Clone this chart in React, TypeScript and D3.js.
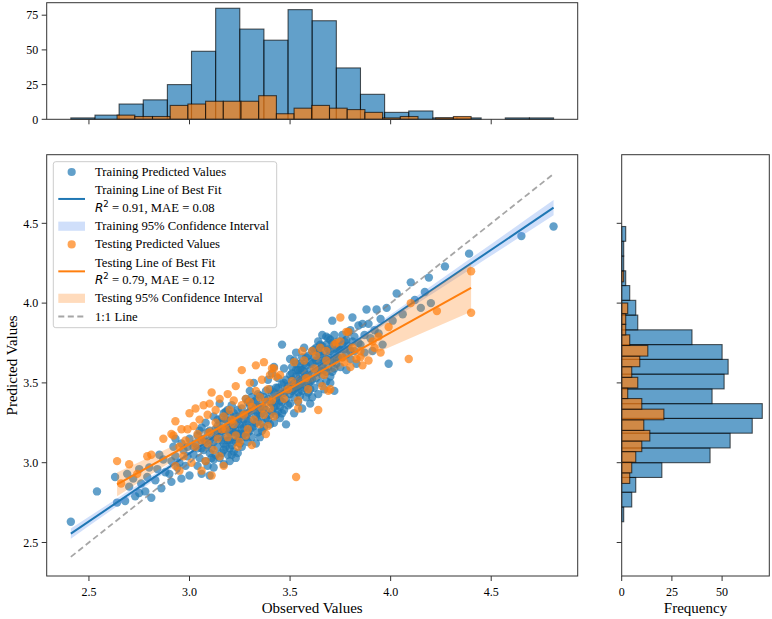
import React from 'react';
import * as d3 from 'd3';

// Training set: [observed, predicted]
const trainPoints: [number, number][] = [
  [2.41, 2.63], [2.54, 2.82], [2.63, 2.91], [2.64, 2.75],
  [2.68, 2.76], [2.75, 2.81], [2.75, 2.96], [2.70, 2.85], [2.72, 2.90], [2.73, 2.79], [2.76, 2.87], [2.69, 2.93],
  [2.78, 2.82], [2.81, 2.78], [2.83, 2.89], [2.84, 2.96], [2.88, 2.94], [2.80, 2.97], [2.86, 2.84], [2.87, 3.02], [2.79, 2.91], [2.85, 3.05],
  [2.91, 3.01], [2.93, 3.04], [2.96, 3.12], [2.99, 3.04], [2.90, 2.93], [2.94, 2.97], [2.97, 3.08], [3.00, 2.92], [2.92, 3.10], [2.95, 3.00],
  [2.98, 2.98], [3.00, 3.15], [2.96, 2.90], [2.93, 3.15], [2.99, 3.10], [2.91, 2.88],
  [3.02, 3.05], [3.03, 3.12], [3.04, 2.98], [3.05, 3.20], [3.06, 2.93], [3.06, 3.09], [3.07, 3.15], [3.08, 3.01], [3.08, 3.25], [3.09, 2.98],
  [3.09, 3.11], [3.10, 3.06], [3.10, 2.92], [3.11, 3.17], [3.11, 3.03], [3.12, 3.13], [3.12, 3.29], [3.12, 2.97], [3.04, 3.17], [3.05, 3.03],
  [3.07, 3.08], [3.09, 3.19], [3.10, 3.14], [3.11, 3.09], [3.13, 3.05], [3.13, 3.21], [3.02, 3.10], [3.06, 3.14],
  [3.08, 3.13], [3.10, 3.20], [3.12, 3.02], [3.04, 3.09], [3.06, 3.22],
  [3.14, 3.10], [3.14, 3.19], [3.15, 3.03], [3.15, 3.25], [3.15, 3.37], [3.16, 3.14], [3.16, 3.06], [3.17, 3.21], [3.17, 3.31], [3.17, 2.99],
  [3.18, 3.10], [3.18, 3.17], [3.18, 3.27], [3.19, 3.05], [3.19, 3.22], [3.19, 3.14], [3.20, 3.30], [3.20, 3.01], [3.20, 3.19], [3.21, 3.11],
  [3.21, 3.26], [3.21, 3.36], [3.22, 3.16], [3.22, 3.07], [3.22, 3.23], [3.23, 3.13], [3.23, 3.29], [3.23, 3.20], [3.24, 3.06], [3.24, 3.18],
  [3.24, 3.33], [3.25, 3.12], [3.25, 3.24], [3.16, 3.28], [3.14, 3.23], [3.17, 3.12], [3.19, 3.33], [3.20, 3.09], [3.21, 3.20], [3.22, 3.31],
  [3.23, 3.03], [3.24, 3.26], [3.18, 3.21], [3.25, 3.18], [3.15, 3.16],
  [3.13, 3.16], [3.14, 3.27], [3.16, 3.20], [3.17, 3.08], [3.18, 3.32], [3.19, 3.26], [3.20, 3.14], [3.21, 3.05], [3.22, 3.19], [3.23, 3.24],
  [3.24, 3.14], [3.25, 3.29],
  [3.26, 3.21], [3.26, 3.34], [3.26, 3.10], [3.27, 3.27], [3.27, 3.18], [3.28, 3.40], [3.28, 3.24], [3.29, 3.13], [3.29, 3.31], [3.30, 3.45],
  [3.30, 3.20], [3.30, 3.36], [3.31, 3.27], [3.31, 3.16], [3.32, 3.33], [3.32, 3.23], [3.32, 3.50], [3.33, 3.29], [3.33, 3.39], [3.34, 3.19],
  [3.34, 3.26], [3.34, 3.35], [3.35, 3.30], [3.35, 3.42], [3.35, 3.16], [3.36, 3.25], [3.36, 3.37], [3.36, 3.31], [3.37, 3.22], [3.37, 3.41],
  [3.27, 3.30], [3.29, 3.38], [3.31, 3.41], [3.33, 3.12], [3.28, 3.16], [3.35, 3.35],
  [3.26, 3.16], [3.27, 3.22], [3.28, 3.30], [3.29, 3.19], [3.29, 3.26], [3.30, 3.32], [3.31, 3.22], [3.32, 3.38], [3.33, 3.25], [3.34, 3.31],
  [3.34, 3.43], [3.36, 3.20], [3.37, 3.34],
  [3.38, 3.33], [3.38, 3.45], [3.39, 3.27], [3.39, 3.52], [3.40, 3.38], [3.40, 3.30], [3.41, 3.43], [3.41, 3.56], [3.42, 3.35], [3.42, 3.25],
  [3.43, 3.47], [3.43, 3.39], [3.44, 3.32], [3.44, 3.53], [3.45, 3.43], [3.45, 3.28], [3.46, 3.49], [3.46, 3.38], [3.47, 3.59], [3.47, 3.33],
  [3.47, 3.44], [3.48, 3.52], [3.48, 3.24], [3.48, 3.40], [3.46, 3.74], [3.49, 3.48], [3.40, 3.46], [3.42, 3.60], [3.44, 3.41], [3.45, 3.35],
  [3.43, 3.30], [3.41, 3.37],
  [3.38, 3.28], [3.39, 3.40], [3.40, 3.24], [3.41, 3.32], [3.42, 3.44], [3.43, 3.36], [3.44, 3.47], [3.45, 3.39], [3.46, 3.31], [3.47, 3.50],
  [3.48, 3.45], [3.49, 3.36],
  [3.50, 3.37], [3.50, 3.55], [3.50, 3.65], [3.51, 3.45], [3.51, 3.60], [3.52, 3.50], [3.52, 3.31], [3.52, 3.41], [3.53, 3.58], [3.53, 3.47],
  [3.53, 3.69], [3.54, 3.52], [3.54, 3.38], [3.54, 3.44], [3.55, 3.62], [3.55, 3.55], [3.55, 3.49], [3.56, 3.34], [3.56, 3.66], [3.56, 3.58],
  [3.57, 3.47], [3.57, 3.53], [3.57, 3.72], [3.58, 3.41], [3.58, 3.61], [3.58, 3.55], [3.59, 3.50], [3.59, 3.67], [3.59, 3.44], [3.60, 3.58],
  [3.60, 3.37], [3.60, 3.63], [3.61, 3.52], [3.61, 3.70], [3.51, 3.52], [3.52, 3.64], [3.55, 3.42], [3.56, 3.51], [3.58, 3.48], [3.60, 3.46],
  [3.61, 3.41], [3.53, 3.54], [3.57, 3.62], [3.54, 3.58],
  [3.50, 3.43], [3.51, 3.56], [3.52, 3.46], [3.53, 3.62], [3.54, 3.48], [3.55, 3.58], [3.56, 3.45], [3.57, 3.57], [3.58, 3.66], [3.59, 3.54],
  [3.60, 3.51], [3.61, 3.62],
  [3.62, 3.56], [3.62, 3.66], [3.62, 3.47], [3.63, 3.60], [3.63, 3.72], [3.63, 3.53], [3.64, 3.64], [3.64, 3.43], [3.64, 3.76], [3.65, 3.58],
  [3.65, 3.68], [3.65, 3.50], [3.66, 3.61], [3.66, 3.80], [3.66, 3.55], [3.67, 3.70], [3.67, 3.46], [3.67, 3.63], [3.68, 3.57], [3.68, 3.74],
  [3.68, 3.51], [3.69, 3.66], [3.69, 3.60], [3.69, 3.78], [3.70, 3.54], [3.70, 3.70], [3.70, 3.50], [3.71, 3.63], [3.71, 3.89], [3.71, 3.75],
  [3.72, 3.59], [3.72, 3.68], [3.72, 3.45], [3.73, 3.71], [3.73, 3.62], [3.64, 3.69], [3.66, 3.73], [3.68, 3.65], [3.70, 3.77], [3.72, 3.80],
  [3.62, 3.71], [3.63, 3.64], [3.64, 3.57], [3.65, 3.74], [3.66, 3.66], [3.67, 3.58], [3.68, 3.79], [3.69, 3.71], [3.70, 3.64], [3.71, 3.57],
  [3.72, 3.74], [3.73, 3.66],
  [3.74, 3.66], [3.74, 3.76], [3.75, 3.60], [3.75, 3.71], [3.76, 3.80], [3.76, 3.66], [3.77, 3.76], [3.78, 3.68], [3.78, 3.58], [3.79, 3.82],
  [3.79, 3.73], [3.80, 3.83], [3.80, 3.65], [3.81, 3.76], [3.81, 3.91], [3.82, 3.70], [3.82, 3.79], [3.83, 3.62], [3.84, 3.75], [3.84, 3.86],
  [3.85, 3.74], [3.77, 3.71], [3.74, 3.71], [3.76, 3.74], [3.78, 3.77], [3.80, 3.70],
  [3.86, 3.87], [3.87, 3.80], [3.88, 3.96], [3.89, 3.87], [3.90, 3.78], [3.91, 3.70], [3.92, 3.83], [3.93, 3.96], [3.94, 3.81], [3.95, 3.90],
  [3.96, 3.74], [3.87, 3.69],
  [3.98, 3.97], [3.99, 3.62], [4.01, 3.89], [4.03, 4.06], [4.06, 3.93],
  [4.10, 4.13], [4.12, 4.02], [4.15, 3.97], [4.17, 4.07], [4.19, 4.16], [4.20, 4.00],
  [4.27, 4.23], [4.39, 4.31], [4.65, 4.42], [4.81, 4.48],
];

// Testing set: [observed, predicted]
const testPoints: [number, number][] = [
  [2.64, 3.01], [2.66, 2.87], [2.70, 2.99],
  [2.74, 2.93], [2.79, 3.04],
  [2.81, 3.05], [2.87, 3.15],
  [2.91, 3.18], [2.92, 3.17], [2.93, 2.98], [2.95, 3.10], [2.96, 3.21], [2.97, 3.04], [2.98, 3.14], [2.93, 3.26], [2.99, 3.21], [2.95, 2.95],
  [3.00, 3.31], [3.01, 3.00], [3.02, 3.23], [3.03, 3.10], [3.05, 3.27], [3.04, 3.18], [3.06, 2.95], [3.07, 3.36], [3.08, 3.01], [3.03, 3.34],
  [3.06, 3.14],
  [3.09, 3.30], [3.10, 3.37], [3.10, 3.19], [3.11, 2.92], [3.12, 3.08], [3.13, 3.25], [3.14, 3.15], [3.15, 3.40], [3.16, 3.21], [3.15, 3.04],
  [3.11, 3.44], [3.13, 3.33], [3.09, 3.12],
  [3.17, 2.98], [3.18, 3.21], [3.19, 3.16], [3.20, 3.33], [3.21, 3.27], [3.22, 3.39], [3.23, 3.17], [3.23, 3.48], [3.24, 3.10], [3.25, 3.13],
  [3.19, 3.43], [3.22, 3.24], [3.17, 3.29],
  [3.26, 3.58], [3.27, 3.30], [3.28, 3.40], [3.29, 3.21], [3.30, 3.50], [3.31, 3.11], [3.31, 3.35], [3.32, 3.27], [3.33, 3.45], [3.28, 3.17],
  [3.30, 3.38], [3.33, 3.61], [3.26, 3.36],
  [3.35, 3.24], [3.35, 3.41], [3.36, 3.52], [3.37, 3.30], [3.38, 3.18], [3.39, 3.23], [3.39, 3.46], [3.40, 3.34], [3.40, 3.55], [3.41, 3.59],
  [3.41, 3.39], [3.42, 3.29], [3.42, 3.59], [3.43, 3.54], [3.37, 3.63], [3.38, 3.38], [3.36, 3.34],
  [3.45, 3.55], [3.47, 3.40], [3.49, 3.46], [3.51, 3.51],
  [3.52, 3.63], [3.53, 2.91], [3.54, 3.39], [3.54, 3.34], [3.56, 3.70], [3.57, 3.64], [3.58, 3.53], [3.59, 3.46],
  [3.61, 3.70], [3.62, 3.59], [3.64, 3.33], [3.65, 3.72], [3.66, 3.48], [3.67, 3.55], [3.68, 3.64], [3.68, 3.70], [3.69, 3.45], [3.63, 3.67],
  [3.70, 3.46], [3.72, 3.74], [3.73, 3.75], [3.75, 3.91], [3.75, 3.76], [3.76, 3.66], [3.77, 3.63], [3.78, 3.82],
  [3.79, 3.82], [3.81, 3.72], [3.83, 3.65], [3.85, 3.66], [3.85, 3.70], [3.86, 3.61], [3.80, 3.60],
  [3.89, 3.64], [3.91, 3.76], [3.92, 3.72], [3.94, 3.79], [3.95, 3.69],
  [3.99, 3.85],
  [4.09, 3.65], [4.10, 4.00],
  [4.23, 3.95],
  [4.40, 4.20], [4.40, 3.94],
];

// Histogram counts, 20 bins spanning each series' range (low to high)
const trainObservedCounts = [1, 3, 11, 14, 25, 49, 80, 65, 57, 79, 71, 37, 18, 5, 6, 1, 1, 0, 1, 1];
const testObservedCounts = [3, 2, 2, 10, 11, 13, 13, 13, 17, 4, 8, 10, 8, 7, 5, 1, 2, 0, 1, 2];
const trainPredictedCounts = [1, 5, 7, 20, 44, 54, 65, 70, 45, 51, 53, 50, 35, 8, 7, 4, 2, 1, 1, 2];
const testPredictedCounts = [4, 5, 7, 10, 14, 11, 21, 10, 3, 8, 5, 9, 13, 4, 2, 2, 3, 0, 0, 1];

// Lines of best fit (endpoints) and their 95% confidence bands
const trainFit: [number, number][] = [[2.41, 2.556], [4.81, 4.598]];
const testFit: [number, number][] = [[2.64, 2.864], [4.40, 4.096]];
const trainBandX = [2.41, 2.8, 3.2, 3.4, 3.6, 4.0, 4.4, 4.81];
const trainBandLow = [2.524, 2.868, 3.217, 3.389, 3.558, 3.889, 4.216, 4.550];
const trainBandHigh = [2.588, 2.908, 3.239, 3.407, 3.580, 3.929, 4.282, 4.646];
const testBandX = [2.64, 3.0, 3.35, 3.7, 4.0, 4.40];
const testBandLow = [2.789, 3.076, 3.336, 3.561, 3.726, 3.946];
const testBandHigh = [2.939, 3.156, 3.386, 3.651, 3.906, 4.246];

const trainStats = ['0.91', '0.08'];
const testStats = ['0.79', '0.12'];
const topFreqTicks = [0, 25, 50, 75];
const sideFreqTicks = [0, 25, 50];

const BLUE = '#1f77b4';
const ORANGE = '#ff7f0e';
const SERIF = '"Liberation Serif", "Times New Roman", serif';
const SPINE = '#333';

const edgesOf = (vals: number[], n: number) => {
  const [a, b] = d3.extent(vals) as [number, number];
  return d3.range(n + 1).map(i => a + ((b - a) * i) / n);
};

export default function App() {
  const W = 772;
  const H = 619;
  const mainL = 46.7, mainR = 577.7, mainT = 154.7, mainB = 576;
  const topT = 2.7, topB = 119.3;
  const sideL = 621.7, sideR = 769.3;

  // shared data range for both axes (the 1:1 line spans it)
  const [lo, hi] = d3.extent([...trainPoints, ...testPoints].flat()) as [number, number];
  const pad = (hi - lo) * 0.05;
  const x = d3.scaleLinear().domain([lo - pad, hi + pad]).range([mainL, mainR]);
  const y = d3.scaleLinear().domain([lo - pad, hi + pad]).range([mainB, mainT]);

  const topMax = d3.max([...trainObservedCounts, ...testObservedCounts]) as number;
  const yTop = d3.scaleLinear().domain([0, topMax * 1.05]).range([topB, topT]);
  const sideMax = d3.max([...trainPredictedCounts, ...testPredictedCounts]) as number;
  const xSide = d3.scaleLinear().domain([0, sideMax * 1.05]).range([sideL, sideR]);

  const trainObsEdges = edgesOf(trainPoints.map(d => d[0]), trainObservedCounts.length);
  const testObsEdges = edgesOf(testPoints.map(d => d[0]), testObservedCounts.length);
  const trainPredEdges = edgesOf(trainPoints.map(d => d[1]), trainPredictedCounts.length);
  const testPredEdges = edgesOf(testPoints.map(d => d[1]), testPredictedCounts.length);

  const mainTicks = x.ticks(5);
  const fmt = d3.format('.1f');

  const line = d3.line<[number, number]>().x(d => x(d[0])).y(d => y(d[1]));
  const band = (xs: number[], low: number[], high: number[]) =>
    d3
      .area<number>()
      .x((_, i) => x(xs[i]))
      .y0((_, i) => y(low[i]))
      .y1((_, i) => y(high[i]))
      .curve(d3.curveMonotoneX)(xs) as string;

  const topBars = (counts: number[], edges: number[], color: string) =>
    counts.map((c, i) =>
      c > 0 ? (
        <rect
          key={i}
          x={x(edges[i])}
          width={x(edges[i + 1]) - x(edges[i])}
          y={yTop(c)}
          height={yTop(0) - yTop(c)}
          fill={color}
          fillOpacity={0.7}
          stroke="#000"
          strokeOpacity={0.65}
          strokeWidth={1.1}
        />
      ) : null
    );

  const sideBars = (counts: number[], edges: number[], color: string) =>
    counts.map((c, i) =>
      c > 0 ? (
        <rect
          key={i}
          x={xSide(0)}
          width={xSide(c) - xSide(0)}
          y={y(edges[i + 1])}
          height={y(edges[i]) - y(edges[i + 1])}
          fill={color}
          fillOpacity={0.7}
          stroke="#000"
          strokeOpacity={0.65}
          strokeWidth={1.1}
        />
      ) : null
    );

  const dots = (pts: [number, number][], color: string) =>
    pts.map((d, i) => <circle key={i} cx={x(d[0])} cy={y(d[1])} r={4.2} fill={color} fillOpacity={0.7} />);

  const tickFont = { fontFamily: SERIF, fontSize: 12, fill: '#000' };
  const labelFont = { fontFamily: SERIF, fontSize: 15, fill: '#000' };

  // legend layout
  const legX = 53.3, legY = 161.7, legW = 223.4, legH = 166;
  const handleX0 = 58.3, handleX1 = 85, textX = 95;
  const rowGap = 18.2, lineGap = 17.5;
  const r1 = 172;
  const r2a = r1 + rowGap, r2b = r2a + lineGap;
  const r3 = r2b + rowGap + 0.3;
  const r4 = r3 + rowGap;
  const r5a = r4 + rowGap, r5b = r5a + lineGap;
  const r6 = r5b + rowGap;
  const r7 = r6 + rowGap;
  const legFont = { fontFamily: SERIF, fontSize: 12.7, fill: '#000' };

  const statText = (ty: number, stats: string[]) => (
    <text x={textX} y={ty} dy="0.32em" {...legFont}>
      <tspan fontFamily="DejaVu Sans" fontStyle="italic" fontSize={12}>R</tspan>
      <tspan fontFamily="DejaVu Sans" fontSize={8.5} dy={-5}>2</tspan>
      <tspan dy={5}>{` = ${stats[0]}, MAE = ${stats[1]}`}</tspan>
    </text>
  );

  return (
    <svg width={W} height={H} style={{ position: 'absolute', left: 0, top: 0, background: '#fff' }}>
      <defs>
        <clipPath id="mainClip">
          <rect x={mainL} y={mainT} width={mainR - mainL} height={mainB - mainT} />
        </clipPath>
      </defs>

      {/* top marginal histogram: observed values */}
      <g>
        {topBars(trainObservedCounts, trainObsEdges, BLUE)}
        {topBars(testObservedCounts, testObsEdges, ORANGE)}
        <rect x={mainL} y={topT} width={mainR - mainL} height={topB - topT} fill="none" stroke={SPINE} strokeWidth={1} />
        {topFreqTicks.map(t => (
          <g key={t}>
            <line x1={mainL - 5} x2={mainL} y1={yTop(t)} y2={yTop(t)} stroke={SPINE} />
            <text x={mainL - 8.5} y={yTop(t)} dy="0.35em" textAnchor="end" {...tickFont}>{t}</text>
          </g>
        ))}
        {mainTicks.map(t => (
          <line key={t} x1={x(t)} x2={x(t)} y1={topB} y2={topB + 5} stroke={SPINE} />
        ))}
      </g>

      {/* right marginal histogram: predicted values */}
      <g>
        {sideBars(trainPredictedCounts, trainPredEdges, BLUE)}
        {sideBars(testPredictedCounts, testPredEdges, ORANGE)}
        <rect x={sideL} y={mainT} width={sideR - sideL} height={mainB - mainT} fill="none" stroke={SPINE} strokeWidth={1} />
        {mainTicks.map(t => (
          <line key={t} x1={sideL - 5} x2={sideL} y1={y(t)} y2={y(t)} stroke={SPINE} />
        ))}
        {sideFreqTicks.map(t => (
          <g key={t}>
            <line x1={xSide(t)} x2={xSide(t)} y1={mainB} y2={mainB + 5} stroke={SPINE} />
            <text x={xSide(t)} y={mainB + 16} dy="0.35em" textAnchor="middle" {...tickFont}>{t}</text>
          </g>
        ))}
        <text x={(sideL + sideR) / 2} y={608} dy="0.35em" textAnchor="middle" {...labelFont}>Frequency</text>
      </g>

      {/* main scatter */}
      <g clipPath="url(#mainClip)">
        {dots(trainPoints, BLUE)}
        <path d={band(trainBandX, trainBandLow, trainBandHigh)} fill="#6495ed" fillOpacity={0.3} />
        <path d={line(trainFit) as string} fill="none" stroke={BLUE} strokeWidth={2} />
        {dots(testPoints, ORANGE)}
        <path d={band(testBandX, testBandLow, testBandHigh)} fill={ORANGE} fillOpacity={0.28} />
        <path d={line(testFit) as string} fill="none" stroke={ORANGE} strokeWidth={2} />
        <path
          d={line([[lo, lo], [hi, hi]]) as string}
          fill="none"
          stroke="gray"
          strokeOpacity={0.7}
          strokeWidth={1.8}
          strokeDasharray="6,3.5"
        />
      </g>
      <rect x={mainL} y={mainT} width={mainR - mainL} height={mainB - mainT} fill="none" stroke={SPINE} strokeWidth={1} />
      {mainTicks.map(t => (
        <g key={t}>
          <line x1={x(t)} x2={x(t)} y1={mainB} y2={mainB + 5} stroke={SPINE} />
          <text x={x(t)} y={mainB + 16} dy="0.35em" textAnchor="middle" {...tickFont}>{fmt(t)}</text>
          <line x1={mainL - 5} x2={mainL} y1={y(t)} y2={y(t)} stroke={SPINE} />
          <text x={mainL - 8.5} y={y(t)} dy="0.35em" textAnchor="end" {...tickFont}>{fmt(t)}</text>
        </g>
      ))}
      <text x={(mainL + mainR) / 2} y={608} dy="0.35em" textAnchor="middle" {...labelFont}>Observed Values</text>
      <text
        transform={`translate(12, ${(mainT + mainB) / 2}) rotate(-90)`}
        dy="0.35em"
        textAnchor="middle"
        {...labelFont}
      >
        Predicted Values
      </text>

      {/* legend */}
      <g>
        <rect x={legX} y={legY} width={legW} height={legH} rx={2.5} fill="#fff" fillOpacity={0.8} stroke="#ccc" strokeWidth={1} />
        <circle cx={(handleX0 + handleX1) / 2} cy={r1} r={4.1} fill={BLUE} fillOpacity={0.7} />
        <text x={textX} y={r1} dy="0.32em" {...legFont}>Training Predicted Values</text>

        <line x1={handleX0} x2={handleX1} y1={(r2a + r2b) / 2} y2={(r2a + r2b) / 2} stroke={BLUE} strokeWidth={2} />
        <text x={textX} y={r2a} dy="0.32em" {...legFont}>Training Line of Best Fit</text>
        {statText(r2b, trainStats)}

        <rect x={handleX0} y={r3 - 4.6} width={handleX1 - handleX0} height={9.2} fill="#6495ed" fillOpacity={0.3} />
        <text x={textX} y={r3} dy="0.32em" {...legFont}>Training 95% Confidence Interval</text>

        <circle cx={(handleX0 + handleX1) / 2} cy={r4} r={4.1} fill={ORANGE} fillOpacity={0.7} />
        <text x={textX} y={r4} dy="0.32em" {...legFont}>Testing Predicted Values</text>

        <line x1={handleX0} x2={handleX1} y1={(r5a + r5b) / 2} y2={(r5a + r5b) / 2} stroke={ORANGE} strokeWidth={2} />
        <text x={textX} y={r5a} dy="0.32em" {...legFont}>Testing Line of Best Fit</text>
        {statText(r5b, testStats)}

        <rect x={handleX0} y={r6 - 4.6} width={handleX1 - handleX0} height={9.2} fill={ORANGE} fillOpacity={0.28} />
        <text x={textX} y={r6} dy="0.32em" {...legFont}>Testing 95% Confidence Interval</text>

        <line x1={handleX0} x2={handleX1} y1={r7} y2={r7} stroke="gray" strokeOpacity={0.7} strokeWidth={1.8} strokeDasharray="6,3.5" />
        <text x={textX} y={r7} dy="0.32em" {...legFont}>1:1 Line</text>
      </g>
    </svg>
  );
}
